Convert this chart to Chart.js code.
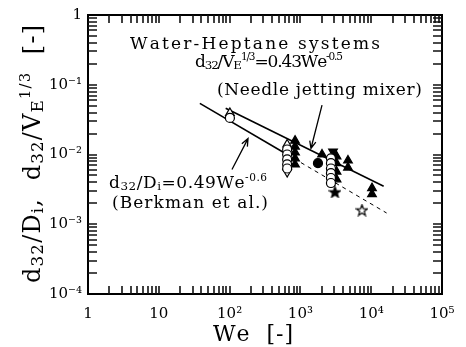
<!DOCTYPE html>
<html>
<head>
<meta charset="utf-8">
<script src="https://cdn.jsdelivr.net/npm/chart.js@4.4.0/dist/chart.umd.min.js"></script>
<style>
html,body{margin:0;padding:0;background:#fff;overflow:hidden}
</style>
</head>
<body>
<canvas id="chart" width="466" height="347"></canvas>
<script>
const xTicks = [1, 10, 100, 1000, 10000, 100000];
const xTickLabels = ['1', '10', '10²', '10³', '10⁴', '10⁵'];
const yTicks = [0.0001, 0.001, 0.01, 0.1, 1];
const yTickLabels = ['10⁻⁴', '10⁻³', '10⁻²', '10⁻¹', '1'];

// points are [We, d32/Di or d32/VE^1/3]
const openCircles = [[101, 0.0335], [650, 0.0118], [650, 0.0100], [650, 0.0085], [650, 0.0072], [650, 0.0063],
    [2700, 0.0088], [2700, 0.0075], [2700, 0.0063], [2700, 0.0054], [2700, 0.0046], [2700, 0.0039]];
const openTriangles = [[101, 0.0394], [650, 0.0139]];
const openTrianglesDown = [[650, 0.0056]];
const filledTriangles = [[840, 0.0158], [840, 0.0130], [840, 0.0107], [840, 0.0088], [840, 0.0072],
    [2020, 0.0100], [3240, 0.0094], [3240, 0.0075], [3240, 0.0057], [3240, 0.0044],
    [4700, 0.0082], [4700, 0.0065], [10260, 0.0033], [10260, 0.0027]];
const filledTrianglesDown = [[2890, 0.0110]];
const filledCircles = [[1770, 0.0075]];
const filledStars = [[3080, 0.0029]];
const openStars = [[7410, 0.0016]];

// correlation lines
const needleLine = [[88, 0.046], [15000, 0.0035]];
const berkmanLine = [[38, 0.054], [650, 0.0100]];
const berkmanExtra = [[650, 0.0100], [16500, 0.00145]];

// minor tick multipliers for the inward ticks on all four sides
const minorSteps = [1, 2, 3, 4, 5, 6, 7, 8, 9];

// arrows, tail -> head, in data units
const arrows = [
    [[108, 0.0061], [182, 0.0169]],
    [[2020, 0.051], [1410, 0.0122]]
];

const FONT = '"DejaVu Serif", "Liberation Serif", serif';

const notes = [
    {segs: [['Water-Heptane systems', 'n']], x: 130, y: 49, size: 17, w: 250},
    {segs: [['d', 'n'], ['32', 'b'], ['/V', 'n'], ['E', 'b'], ['1/3', 'p'], ['=0.43We', 'n'], ['-0.5', 'p']], x: 195, y: 67, size: 17, w: 148},
    {segs: [['(Needle jetting mixer)', 'n']], x: 217, y: 95, size: 17, w: 205},
    {segs: [['d', 'n'], ['32', 'b'], ['/D', 'n'], ['i', 'b'], ['=0.49We', 'n'], ['-0.6', 'p']], x: 109, y: 188, size: 17, w: 158},
    {segs: [['(Berkman et al.)', 'n']], x: 112, y: 208, size: 17, w: 156}
];

function toPts(a){
    return a.map(p => ({x: p[0], y: p[1]}));
}

function makeStar(fill){
    const c = document.createElement('canvas');
    c.width = 13; c.height = 13;
    const g = c.getContext('2d');
    g.beginPath();
    for(let i = 0; i < 10; i++){
        const r = i % 2 ? 2.4 : 5.8;
        const a = -Math.PI / 2 + i * Math.PI / 5;
        const px = 6.5 + r * Math.cos(a), py = 7 + r * Math.sin(a);
        if(i == 0) g.moveTo(px, py); else g.lineTo(px, py);
    }
    g.closePath();
    g.fillStyle = fill;
    g.fill();
    g.lineWidth = 1.2;
    g.strokeStyle = '#000';
    g.stroke();
    return c;
}

function markers(data, style, fill, radius, rot){
    return {
        data: toPts(data),
        showLine: false,
        pointStyle: style,
        pointRadius: radius,
        pointBackgroundColor: fill,
        pointBorderColor: '#000',
        pointBorderWidth: 1.2,
        pointRotation: rot || 0,
        order: 0
    };
}

function line(data, dash, width){
    return {
        data: toPts(data),
        showLine: true,
        borderColor: '#000',
        borderWidth: width,
        borderDash: dash,
        pointRadius: 0,
        fill: false,
        order: 1
    };
}

function drawRich(ctx, segs, x, y, size, width){
    const parts = [];
    for(const [t, k] of segs) for(const ch of t) parts.push({ch: ch, k: k});
    const fs = k => k == 'b' ? size * 0.7 : (k == 'p' ? size * 0.62 : size);
    const dy = k => k == 'b' ? size * 0.12 : (k == 'p' ? -size * 0.4 : 0);
    let w = 0;
    for(const p of parts){
        ctx.font = fs(p.k) + 'px ' + FONT;
        p.w = ctx.measureText(p.ch).width;
        w += p.w;
    }
    const gap = width ? (width - w) / (parts.length - 1) : 0;
    ctx.textAlign = 'left';
    ctx.textBaseline = 'alphabetic';
    let cx = x;
    for(const p of parts){
        ctx.font = fs(p.k) + 'px ' + FONT;
        ctx.fillText(p.ch, cx, y + dy(p.k));
        cx += p.w + gap;
    }
}

function drawTicks(chart){
    const ctx = chart.ctx;
    const a = chart.chartArea;
    const sx = chart.scales.x, sy = chart.scales.y;
    ctx.save();
    ctx.setTransform(1, 0, 0, 1, 0, 0);
    ctx.globalAlpha = 1;
    ctx.globalCompositeOperation = 'source-over';
    ctx.setLineDash([]);
    ctx.strokeStyle = '#111111';
    ctx.lineWidth = 1.6;
    ctx.beginPath();
    for(let n = 0; n < 5; n++){
        for(const k of minorSteps){
            const v = k * Math.pow(10, n);
            if(v <= 1) continue;
            const px = Math.round(sx.getPixelForValue(v));
            ctx.moveTo(px, a.bottom);
            ctx.lineTo(px, a.bottom - 8);
            ctx.moveTo(px, a.top);
            ctx.lineTo(px, a.top + 8);
        }
    }
    for(let n = -4; n < 0; n++){
        for(const k of minorSteps){
            if(n == -4 && k == 1) continue;
            const v = k * Math.pow(10, n);
            const py = Math.round(sy.getPixelForValue(v));
            ctx.moveTo(a.left, py);
            ctx.lineTo(a.left + 9, py);
            ctx.moveTo(a.right, py);
            ctx.lineTo(a.right - 9, py);
        }
    }
    ctx.stroke();
    ctx.restore();
}

const framePlugin = {
    id: 'frame',
    afterDraw(chart){
        const ctx = chart.ctx;
        const a = chart.chartArea;
        const sx = chart.scales.x, sy = chart.scales.y;
        ctx.save();
        ctx.strokeStyle = '#000';
        ctx.lineWidth = 2;
        ctx.strokeRect(a.left, a.top, a.width, a.height);

        // arrows
        ctx.lineWidth = 1.3;
        for(const [t, h] of arrows){
            const x0 = sx.getPixelForValue(t[0]), y0 = sy.getPixelForValue(t[1]);
            const x1 = sx.getPixelForValue(h[0]), y1 = sy.getPixelForValue(h[1]);
            const ang = Math.atan2(y1 - y0, x1 - x0);
            ctx.beginPath();
            ctx.moveTo(x0, y0); ctx.lineTo(x1, y1);
            ctx.moveTo(x1 - 8 * Math.cos(ang - 0.4), y1 - 8 * Math.sin(ang - 0.4));
            ctx.lineTo(x1, y1);
            ctx.lineTo(x1 - 8 * Math.cos(ang + 0.4), y1 - 8 * Math.sin(ang + 0.4));
            ctx.stroke();
        }

        ctx.fillStyle = '#000';
        for(const n of notes) drawRich(ctx, n.segs, n.x, n.y, n.size, n.w);

        // axis titles
        drawRich(ctx, [['We  [-]', 'n']], 213, 341, 22, 80);
        ctx.translate(40, 154);
        ctx.rotate(-Math.PI / 2);
        drawRich(ctx, [['d', 'n'], ['32', 'b'], ['/D', 'n'], ['i', 'b'], [',  d', 'n'], ['32', 'b'], ['/V', 'n'], ['E', 'b'], ['1/3', 'p'], ['  [-]', 'n']], -129, 0, 24, 258);
        ctx.restore();

        // inward ticks last, on a clean context state
        drawTicks(chart);
    }
};

new Chart(document.getElementById('chart').getContext('2d'), {
    type: 'scatter',
    data: {
        datasets: [
            markers(openCircles, 'circle', '#fff', 4.5),
            markers(openTriangles, 'triangle', '#fff', 5),
            markers(openTrianglesDown, 'triangle', '#fff', 5, 180),
            markers(filledTriangles, 'triangle', '#000', 5),
            markers(filledTrianglesDown, 'triangle', '#000', 5, 180),
            markers(filledCircles, 'circle', '#000', 4.5),
            markers(filledStars, makeStar('#000'), '#000', 6),
            markers(openStars, makeStar('#fff'), '#fff', 6),
            line(needleLine, [], 1.6),
            line(berkmanLine, [], 1.6),
            line(berkmanExtra, [4, 4], 1)
        ]
    },
    options: {
        responsive: false,
        animation: false,
        events: [],
        layout: {padding: {top: 12, right: 24, left: 0, bottom: 0}},
        plugins: {legend: {display: false}, tooltip: {enabled: false}},
        scales: {
            x: {
                type: 'logarithmic',
                min: 1,
                max: 100000,
                grid: {display: false, drawTicks: false},
                border: {display: false},
                ticks: {
                    autoSkip: false,
                    maxRotation: 0,
                    padding: 11,
                    color: '#000',
                    font: {family: FONT, size: 15},
                    callback: (v, i) => xTickLabels[i]
                },
                afterBuildTicks: s => { s.ticks = xTicks.map(v => ({value: v})); },
                afterFit: s => { s.height = 53; }
            },
            y: {
                type: 'logarithmic',
                min: 0.0001,
                max: 1,
                grid: {display: false, drawTicks: false},
                border: {display: false},
                ticks: {
                    autoSkip: false,
                    padding: 6,
                    color: '#000',
                    font: {family: FONT, size: 15},
                    callback: (v, i) => yTickLabels[i]
                },
                afterBuildTicks: s => { s.ticks = yTicks.map(v => ({value: v})); },
                afterFit: s => { s.width = 88; }
            }
        }
    },
    plugins: [framePlugin]
});
</script>
</body>
</html>
